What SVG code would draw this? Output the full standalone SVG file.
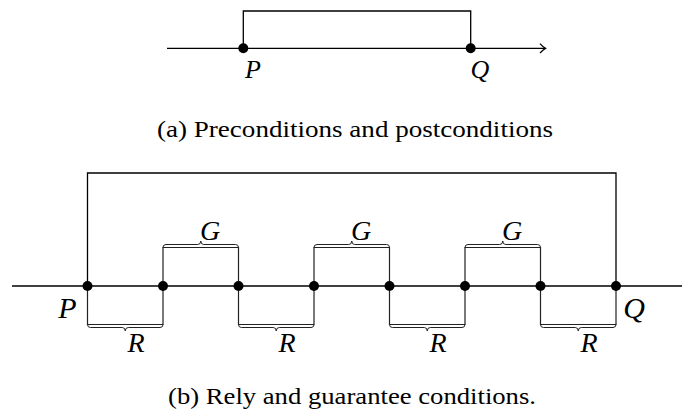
<svg xmlns="http://www.w3.org/2000/svg" width="682" height="414" viewBox="0 0 682 414">
<style>
.ln{fill:none;stroke:#000;stroke-width:1.3}
.bx{fill:none;stroke:#222;stroke-width:1.2}
.br{fill:none;stroke:#222;stroke-width:1}
.dot{fill:#000}
.m{font-family:"Liberation Serif","Times New Roman",serif;font-style:italic;fill:#000;text-anchor:middle}
.cap{font-family:"Liberation Serif","Times New Roman",serif;fill:#000;font-size:24px}
</style>
<rect width="682" height="414" fill="#fff"/>
<g id="connectors">
  <path class="ln" d="M167 48.3 H545"/>
  <path class="ln" d="M540 43.6 Q543 47 545.5 48.3 Q543 49.6 540 53"/>
  <path class="ln" d="M243.3 48.3 V11 H470.7 V48.3"/>
  <path class="ln" d="M12 286 H682"/>
  <path class="ln" d="M87.5 286 V173 H616 V286"/>
  <path class="bx" d="M163 286 V247.5 H238.5 V286"/>
  <path class="bx" d="M314 286 V247.5 H389.5 V286"/>
  <path class="bx" d="M465 286 V247.5 H540.5 V286"/>
  <path class="bx" d="M87.5 286 V324.5 H163 V286"/>
  <path class="bx" d="M238.5 286 V324.5 H314 V286"/>
  <path class="bx" d="M389.5 286 V324.5 H465 V286"/>
  <path class="bx" d="M540.5 286 V324.5 H616 V286"/>
  <path class="br" d="M163 247.5 q0 -3 3 -3 H197.75 q3 0 3 -3.5 q0 3.5 3 3.5 H235.5 q3 0 3 3"/>
  <path class="br" d="M314 247.5 q0 -3 3 -3 H348.75 q3 0 3 -3.5 q0 3.5 3 3.5 H386.5 q3 0 3 3"/>
  <path class="br" d="M465 247.5 q0 -3 3 -3 H499.75 q3 0 3 -3.5 q0 3.5 3 3.5 H537.5 q3 0 3 3"/>
  <path class="br" d="M87.5 324.5 q0 3 3 3 H122.25 q3 0 3 3.5 q0 -3.5 3 -3.5 H160 q3 0 3 -3"/>
  <path class="br" d="M238.5 324.5 q0 3 3 3 H273.25 q3 0 3 3.5 q0 -3.5 3 -3.5 H311 q3 0 3 -3"/>
  <path class="br" d="M389.5 324.5 q0 3 3 3 H424.25 q3 0 3 3.5 q0 -3.5 3 -3.5 H462 q3 0 3 -3"/>
  <path class="br" d="M540.5 324.5 q0 3 3 3 H575.25 q3 0 3 3.5 q0 -3.5 3 -3.5 H613 q3 0 3 -3"/>
</g>
<g id="top-P"><circle class="dot" cx="243.3" cy="48.3" r="5"/><text class="m" x="253" y="78" font-size="26">P</text></g>
<g id="top-Q"><circle class="dot" cx="470.7" cy="48.3" r="5"/><text class="m" x="480" y="78" font-size="26">Q</text></g>
<g id="caption-a"><text class="cap" x="157" y="137" textLength="396" lengthAdjust="spacingAndGlyphs">(a) Preconditions and postconditions</text></g>
<g id="n0"><circle class="dot" cx="87.5" cy="286" r="5"/><text class="m" x="67.5" y="318" font-size="30">P</text></g>
<g id="n1"><circle class="dot" cx="163" cy="286" r="5"/></g>
<g id="n2"><circle class="dot" cx="238.5" cy="286" r="5"/></g>
<g id="n3"><circle class="dot" cx="314" cy="286" r="5"/></g>
<g id="n4"><circle class="dot" cx="389.5" cy="286" r="5"/></g>
<g id="n5"><circle class="dot" cx="465" cy="286" r="5"/></g>
<g id="n6"><circle class="dot" cx="540.5" cy="286" r="5"/></g>
<g id="n7"><circle class="dot" cx="616" cy="286" r="5"/><text class="m" x="634" y="318" font-size="30">Q</text></g>
<g id="labels-G">
  <text class="m" x="210" y="240" font-size="28">G</text>
  <text class="m" x="361" y="240" font-size="28">G</text>
  <text class="m" x="512" y="240" font-size="28">G</text>
</g>
<g id="labels-R">
  <text class="m" x="136" y="352" font-size="28">R</text>
  <text class="m" x="287" y="352" font-size="28">R</text>
  <text class="m" x="438" y="352" font-size="28">R</text>
  <text class="m" x="589" y="352" font-size="28">R</text>
</g>
<g id="caption-b"><text class="cap" x="168" y="404" textLength="368" lengthAdjust="spacingAndGlyphs">(b) Rely and guarantee conditions.</text></g>
</svg>
